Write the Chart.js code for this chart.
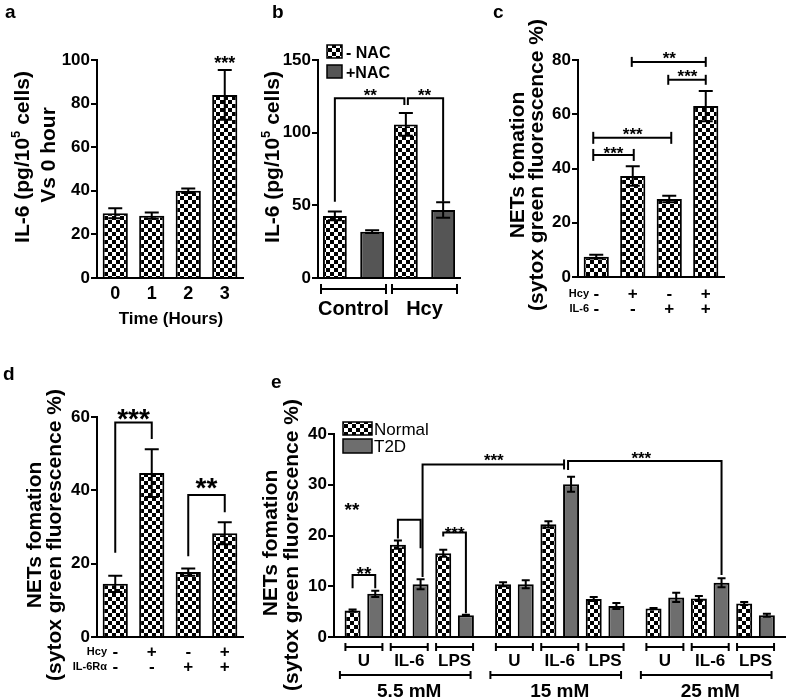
<!DOCTYPE html>
<html>
<head>
<meta charset="utf-8">
<title>IL-6 and NETs formation</title>
<script src="https://cdn.jsdelivr.net/npm/chart.js@4.4.1/dist/chart.umd.min.js"></script>
<style>
  html, body { margin: 0; padding: 0; background: #fff; }
  #figure { position: relative; width: 787px; height: 700px; overflow: hidden; }
  #figure canvas { position: absolute; }
</style>
</head>
<body>
<div id="figure">
  <canvas id="panelA"></canvas>
  <canvas id="panelB"></canvas>
  <canvas id="panelC"></canvas>
  <canvas id="panelD"></canvas>
  <canvas id="panelE"></canvas>
</div>
<script>
// ---- data ----
// a: IL-6 release over time
const timeLabels = ['0', '1', '2', '3'];
const il6Time = [29.7, 28.6, 40.0, 84.0];
const il6TimeErr = [2.3, 1.4, 1.0, 11.4];

// b: IL-6 with / without NAC
const nacGroups = ['Control', 'Hcy'];
const il6MinusNac = [42.7, 105.7];
const il6MinusNacErr = [3.0, 7.8];
const il6PlusNac = [31.9, 46.8];
const il6PlusNacErr = [1.0, 5.3];

// c: NETs formation, Hcy / IL-6
const hcyRowC = ['-', '+', '-', '+'];
const il6RowC = ['-', '-', '+', '+'];
const netsC = [7.5, 37.2, 28.8, 63.0];
const netsCErr = [0.7, 3.6, 1.2, 5.6];

// d: NETs formation, Hcy / IL-6Rα
const hcyRowD = ['-', '+', '-', '+'];
const il6rRowD = ['-', '-', '+', '+'];
const netsD = [14.5, 44.7, 17.7, 28.3];
const netsDErr = [2.2, 6.5, 1.0, 3.0];

// e: Normal vs T2D neutrophils at three glucose levels
const glucose = ['5.5 mM', '15 mM', '25 mM'];
const stimuli = ['U', 'IL-6', 'LPS'];
const netsNormal = [5.2, 18.2, 16.5, 10.4, 22.2, 7.5, 5.6, 7.6, 6.6];
const netsNormalErr = [0.2, 0.8, 0.7, 0.4, 0.6, 0.4, 0.1, 0.5, 0.3];
const netsT2D = [8.5, 10.4, 4.3, 10.4, 30.1, 6.1, 7.8, 10.7, 4.3];
const netsT2DErr = [0.6, 1.0, 0.1, 0.8, 1.5, 0.6, 0.9, 0.9, 0.3];

// ---- helpers ----
const FONT = '"Liberation Sans", Arial, Helvetica, sans-serif';
Chart.defaults.font.family = FONT;
Chart.defaults.font.weight = 'bold';

function font(size, bold) {
    return (bold === false ? '' : 'bold ') + size + 'px ' + FONT;
}

function place(id, box) {
    const cv = document.getElementById(id);
    cv.width = box.w;
    cv.height = box.h;
    cv.style.left = box.l + 'px';
    cv.style.top = box.t + 'px';
    return cv.getContext('2d');
}

function checker(ctx) {
    const tile = document.createElement('canvas');
    tile.width = 8;
    tile.height = 8;
    const g = tile.getContext('2d');
    g.fillStyle = '#fff';
    g.fillRect(0, 0, 8, 8);
    g.fillStyle = '#000';
    g.fillRect(0, 0, 4, 4);
    g.fillRect(4, 4, 4, 4);
    return ctx.createPattern(tile, 'repeat');
}

function yAxis(max, step, width) {
    return {
        min: 0,
        max: max,
        afterFit: s => { s.width = width; },
        ticks: { stepSize: step, color: '#000', padding: 1,
                 font: { family: FONT, size: 17, weight: 'bold', style: 'normal' } },
        grid: { display: true, drawOnChartArea: false, drawTicks: true, tickLength: 6, color: '#000', lineWidth: 2 },
        border: { display: true, color: '#000', width: 2 }
    };
}

function xCategory(height) {
    return {
        offset: true,
        afterFit: s => { s.height = height; },
        ticks: { display: false },
        grid: { display: false, drawTicks: false },
        border: { display: true, color: '#000', width: 2 }
    };
}

function chartOptions(box, area, scales) {
    return {
        responsive: false,
        animation: false,
        events: [],
        devicePixelRatio: 1,
        layout: { padding: { top: area.top - box.t, right: box.l + box.w - area.right, left: 0, bottom: 0 } },
        plugins: { legend: { display: false }, tooltip: { enabled: false } },
        scales: scales
    };
}

function barStyle(fill, pct) {
    return { backgroundColor: fill, borderColor: '#000', borderWidth: 2, borderSkipped: 'bottom',
             categoryPercentage: 1, barPercentage: pct };
}

// error bars: sets = [[values, errors], ...] per dataset
function errorBars(id, sets, cap) {
    return {
        id: id,
        afterDatasetsDraw(chart) {
            const ctx = chart.ctx;
            const ys = chart.scales.y;
            ctx.save();
            ctx.strokeStyle = '#000';
            ctx.lineWidth = 2;
            sets.forEach((set, ds) => {
                const meta = chart.getDatasetMeta(ds);
                meta.data.forEach((el, i) => {
                    const top = ys.getPixelForValue(set[0][i] + set[1][i]);
                    const bot = ys.getPixelForValue(set[0][i] - set[1][i]);
                    ctx.beginPath();
                    ctx.moveTo(el.x, bot); ctx.lineTo(el.x, top);
                    ctx.moveTo(el.x - cap / 2, top); ctx.lineTo(el.x + cap / 2, top);
                    ctx.moveTo(el.x - cap / 2, bot); ctx.lineTo(el.x + cap / 2, bot);
                    ctx.stroke();
                });
            });
            ctx.restore();
        }
    };
}

// decorations drawn in page coordinates
function decor(id, box, fn) {
    return {
        id: id,
        afterDraw(chart) {
            const ctx = chart.ctx;
            ctx.save();
            ctx.translate(-box.l, -box.t);
            fn(ctx, {
                bx: (ds, i) => chart.getDatasetMeta(ds).data[i].x + box.l,
                vy: v => chart.scales.y.getPixelForValue(v) + box.t,
                px: v => chart.scales.x.getPixelForValue(v) + box.l
            });
            ctx.restore();
        }
    };
}

function label(ctx, s, x, y, size, align, bold) {
    ctx.font = font(size, bold);
    ctx.textAlign = align || 'center';
    ctx.textBaseline = 'alphabetic';
    ctx.fillStyle = '#000';
    ctx.fillText(s, x, y);
}

function stars(ctx, s, cx, cy, size) {
    label(ctx, s, cx, cy + 0.58 * size, size);
}

function path(ctx, pts, w) {
    ctx.beginPath();
    ctx.moveTo(pts[0][0], pts[0][1]);
    for (let i = 1; i < pts.length; i++) ctx.lineTo(pts[i][0], pts[i][1]);
    ctx.lineWidth = w || 2;
    ctx.strokeStyle = '#000';
    ctx.stroke();
}

// horizontal bracket with small end ticks
function hBracket(ctx, x1, x2, y, half) {
    path(ctx, [[x1, y], [x2, y]]);
    path(ctx, [[x1, y - half], [x1, y + half]]);
    path(ctx, [[x2, y - half], [x2, y + half]]);
}

// rotated axis title; parts = [{t, sup}]
function vTitle(ctx, parts, bx, cy, size) {
    ctx.save();
    ctx.translate(bx, cy);
    ctx.rotate(-Math.PI / 2);
    ctx.fillStyle = '#000';
    ctx.textBaseline = 'alphabetic';
    ctx.textAlign = 'left';
    const fonts = parts.map(p => font(p.sup ? Math.round(size * 0.62) : size));
    let total = 0;
    parts.forEach((p, i) => { ctx.font = fonts[i]; total += ctx.measureText(p.t).width; });
    let x = -total / 2;
    parts.forEach((p, i) => {
        ctx.font = fonts[i];
        ctx.fillText(p.t, x, p.sup ? -size * 0.42 : 0);
        x += ctx.measureText(p.t).width;
    });
    ctx.restore();
}

function legendBox(ctx, fill, x, y, w, h) {
    ctx.fillStyle = fill;
    ctx.fillRect(x, y, w, h);
    ctx.lineWidth = 1.5;
    ctx.strokeStyle = '#000';
    ctx.strokeRect(x, y, w, h);
}

const il6Title = [{ t: 'IL-6 (pg/10' }, { t: '5', sup: true }, { t: ' cells)' }];
const NAC_GREY = '#555555';
const T2D_GREY = '#6e6e6e';

// ---- panel a ----
const boxA = { l: 0, t: 0, w: 250, h: 345 };
const areaA = { left: 97, right: 243, top: 60, bottom: 278 };
const ctxA = place('panelA', boxA);
new Chart(ctxA, {
    type: 'bar',
    data: { labels: timeLabels, datasets: [Object.assign({ data: il6Time }, barStyle(checker(ctxA), 0.69))] },
    options: chartOptions(boxA, areaA, {
        x: xCategory(boxA.t + boxA.h - areaA.bottom),
        y: yAxis(100, 20, areaA.left - boxA.l)
    }),
    plugins: [
        errorBars('errA', [[il6Time, il6TimeErr]], 14),
        decor('decA', boxA, (ctx, c) => {
            label(ctx, 'a', 5, 18, 19, 'left');
            vTitle(ctx, il6Title, 29, 157, 21);
            vTitle(ctx, [{ t: 'Vs 0 hour' }], 55, 155, 21);
            timeLabels.forEach((t, i) => label(ctx, t, c.bx(0, i), 299, 18));
            label(ctx, 'Time (Hours)', 171, 324, 17);
            stars(ctx, '***', c.bx(0, 3), 59, 18);
        })
    ]
});

// ---- panel b ----
const boxB = { l: 250, t: 0, w: 240, h: 345 };
const areaB = { left: 318, right: 460, top: 60, bottom: 278 };
const ctxB = place('panelB', boxB);
const patB = checker(ctxB);
new Chart(ctxB, {
    type: 'bar',
    data: {
        labels: nacGroups,
        datasets: [
            Object.assign({ label: '- NAC', data: il6MinusNac }, barStyle(patB, 0.64), { categoryPercentage: 1.05 }),
            Object.assign({ label: '+NAC', data: il6PlusNac }, barStyle(NAC_GREY, 0.64), { categoryPercentage: 1.05 })
        ]
    },
    options: chartOptions(boxB, areaB, {
        x: xCategory(boxB.t + boxB.h - areaB.bottom),
        y: yAxis(150, 50, areaB.left - boxB.l)
    }),
    plugins: [
        errorBars('errB', [[il6MinusNac, il6MinusNacErr], [il6PlusNac, il6PlusNacErr]], 14),
        decor('decB', boxB, (ctx, c) => {
            label(ctx, 'b', 272, 18, 19, 'left');
            vTitle(ctx, il6Title, 279, 157, 21);
            // legend
            legendBox(ctx, patB, 327, 45, 15, 13);
            legendBox(ctx, NAC_GREY, 327, 65, 15, 13);
            label(ctx, '- NAC', 346, 58, 16, 'left');
            label(ctx, '+NAC', 346, 78, 16, 'left');
            // significance
            const top = c.vy(123.7);
            const xc = c.bx(0, 0), xh = c.bx(0, 1), xn = c.bx(1, 1);
            path(ctx, [[xc, c.vy(52.5)], [xc, top], [xh - 1.5, top], [xh - 1.5, c.vy(119)]]);
            path(ctx, [[xh + 2, c.vy(119)], [xh + 2, top], [xn, top], [xn, c.vy(52.5)]]);
            stars(ctx, '**', (xc + xh) / 2, top - 7, 17);
            stars(ctx, '**', (xh + xn) / 2, top - 7, 17);
            // group brackets and labels
            nacGroups.forEach((g, i) => {
                const mid = c.px(i);
                const half = (areaB.right - areaB.left) / nacGroups.length / 2;
                hBracket(ctx, mid - half + 3, mid + half - 3, 289, 5);
                label(ctx, g, mid, 315, 20);
            });
        })
    ]
});

// ---- panel c ----
const boxC = { l: 490, t: 0, w: 297, h: 345 };
const areaC = { left: 578, right: 724, top: 60, bottom: 277 };
const ctxC = place('panelC', boxC);
new Chart(ctxC, {
    type: 'bar',
    data: { labels: hcyRowC.map((h, i) => h + i), datasets: [Object.assign({ data: netsC }, barStyle(checker(ctxC), 0.69))] },
    options: chartOptions(boxC, areaC, {
        x: xCategory(boxC.t + boxC.h - areaC.bottom),
        y: yAxis(80, 20, areaC.left - boxC.l)
    }),
    plugins: [
        errorBars('errC', [[netsC, netsCErr]], 14),
        decor('decC', boxC, (ctx, c) => {
            label(ctx, 'c', 493, 18, 19, 'left');
            vTitle(ctx, [{ t: 'NETs fomation' }], 524, 165, 21);
            vTitle(ctx, [{ t: '(sytox green fluorescence %)' }], 543, 165, 21);
            const b = i => c.bx(0, i);
            hBracket(ctx, b(0) - 3, b(1) + 1, c.vy(45.0), 6);
            stars(ctx, '***', (b(0) + b(1)) / 2 - 1, c.vy(45.0) - 6, 17);
            hBracket(ctx, b(0) - 3, b(2) + 2, c.vy(51.3), 6);
            stars(ctx, '***', (b(0) + b(2)) / 2, c.vy(51.3) - 8, 17);
            hBracket(ctx, b(1) - 1, b(3), c.vy(79.3), 5);
            stars(ctx, '**', (b(1) + b(3)) / 2, c.vy(79.3) - 8, 17);
            hBracket(ctx, b(2) - 1, b(3), c.vy(72.7), 5);
            stars(ctx, '***', (b(2) + b(3)) / 2, c.vy(72.7) - 8, 17);
            label(ctx, 'Hcy', 589, 297, 11, 'right');
            label(ctx, 'IL-6', 589, 312, 11, 'right');
            hcyRowC.forEach((s, i) => label(ctx, s, b(i), 299, 17));
            il6RowC.forEach((s, i) => label(ctx, s, b(i), 314, 17));
        })
    ]
});

// ---- panel d ----
const boxD = { l: 0, t: 345, w: 250, h: 355 };
const areaD = { left: 97, right: 243, top: 417, bottom: 637 };
const ctxD = place('panelD', boxD);
new Chart(ctxD, {
    type: 'bar',
    data: { labels: hcyRowD.map((h, i) => h + i), datasets: [Object.assign({ data: netsD }, barStyle(checker(ctxD), 0.69))] },
    options: chartOptions(boxD, areaD, {
        x: xCategory(boxD.t + boxD.h - areaD.bottom),
        y: yAxis(60, 20, areaD.left - boxD.l)
    }),
    plugins: [
        errorBars('errD', [[netsD, netsDErr]], 14),
        decor('decD', boxD, (ctx, c) => {
            label(ctx, 'd', 3, 380, 19, 'left');
            vTitle(ctx, [{ t: 'NETs fomation' }], 41, 535, 21);
            vTitle(ctx, [{ t: '(sytox green fluorescence %)' }], 61, 535, 21);
            const b = i => c.bx(0, i);
            const t1 = c.vy(58.5), t2 = c.vy(38.7);
            path(ctx, [[b(0), c.vy(23)], [b(0), t1], [b(1), t1], [b(1), c.vy(54)]]);
            stars(ctx, '***', (b(0) + b(1)) / 2, t1 - 11, 28);
            path(ctx, [[b(2), c.vy(22)], [b(2), t2], [b(3), t2], [b(3), c.vy(34)]]);
            stars(ctx, '**', (b(2) + b(3)) / 2, t2 - 14, 28);
            label(ctx, 'Hcy', 107, 655, 11, 'right');
            label(ctx, 'IL-6R\u03b1', 107, 670, 11, 'right');
            hcyRowD.forEach((s, i) => label(ctx, s, b(i), 657, 17));
            il6rRowD.forEach((s, i) => label(ctx, s, b(i), 672, 17));
        })
    ]
});

// ---- panel e ----
const GROUP_GAP = 0.32;   // extra space between glucose groups, in pair widths
const pairPos = glucose.flatMap((g, gi) => stimuli.map((s, si) => gi * (stimuli.length + GROUP_GAP) + si));
const boxE = { l: 250, t: 345, w: 537, h: 355 };
const areaE = { left: 334, right: 785, top: 434, bottom: 637 };
const ctxE = place('panelE', boxE);
const patE = checker(ctxE);
const eBar = fill => Object.assign(barStyle(fill, 0.9), { grouped: false, maxBarThickness: 16 });
new Chart(ctxE, {
    type: 'bar',
    data: {
        datasets: [
            Object.assign({ label: 'Normal', data: netsNormal.map((v, i) => ({ x: pairPos[i] - 0.25, y: v })) }, eBar(patE)),
            Object.assign({ label: 'T2D', data: netsT2D.map((v, i) => ({ x: pairPos[i] + 0.25, y: v })) }, eBar(T2D_GREY))
        ]
    },
    options: chartOptions(boxE, areaE, {
        x: {
            type: 'linear', min: -0.66, max: 9.29, offset: false,
            afterFit: s => { s.height = boxE.t + boxE.h - areaE.bottom; },
            ticks: { display: false, stepSize: 1, includeBounds: false },
            grid: { display: false, drawTicks: false },
            border: { display: true, color: '#000', width: 2 }
        },
        y: yAxis(40, 10, areaE.left - boxE.l)
    }),
    plugins: [
        errorBars('errE', [[netsNormal, netsNormalErr], [netsT2D, netsT2DErr]], 8),
        decor('decE', boxE, (ctx, c) => {
            label(ctx, 'e', 271, 388, 19, 'left');
            vTitle(ctx, [{ t: 'NETs fomation' }], 277, 543, 21);
            vTitle(ctx, [{ t: '(sytox green fluorescence %)' }], 298, 545, 21);
            // legend
            legendBox(ctx, patE, 343, 422, 29, 13);
            legendBox(ctx, T2D_GREY, 343, 439, 29, 14);
            label(ctx, 'Normal', 374, 435, 17, 'left', false);
            label(ctx, 'T2D', 374, 452, 17, 'left', false);
            // significance
            const n = i => c.bx(0, i), t = i => c.bx(1, i);
            stars(ctx, '**', 352, 505, 19);
            const yU = c.vy(12.2);
            path(ctx, [[n(0), c.vy(9.6)], [n(0), yU], [t(0), yU], [t(0), c.vy(9.6)]]);
            stars(ctx, '**', (n(0) + t(0)) / 2, yU - 6, 19);
            const yI = c.vy(23.1);
            path(ctx, [[n(1), c.vy(19.4)], [n(1), yI], [t(1), yI], [t(1), c.vy(17.5)]]);
            const yL = c.vy(20.6);
            path(ctx, [[n(2), c.vy(19.8)], [n(2), yL], [t(2), yL], [t(2), c.vy(4.7)]]);
            stars(ctx, '***', (n(2) + t(2)) / 2, yL - 3, 17);
            const y1 = c.vy(34.0);
            path(ctx, [[t(1) + 2, c.vy(11.8)], [t(1) + 2, y1], [t(4) - 7, y1]]);
            path(ctx, [[t(4) - 7, y1 - 5], [t(4) - 7, y1 + 5]]);
            stars(ctx, '***', (t(1) + t(4)) / 2 - 2, y1 - 8, 17);
            const y2 = c.vy(34.7);
            path(ctx, [[t(4) - 3, c.vy(32.9)], [t(4) - 3, y2], [t(7), y2], [t(7), c.vy(12.2)]]);
            stars(ctx, '***', (t(4) + t(7)) / 2 - 5, y2 - 7, 17);
            // category labels
            pairPos.forEach((p, i) => {
                const mid = c.px(p);
                hBracket(ctx, mid - 18.5, mid + 18.5, 647, 4);
                label(ctx, stimuli[i % stimuli.length], mid, 666, 17);
            });
            glucose.forEach((g, gi) => {
                const first = c.px(pairPos[gi * stimuli.length]);
                const last = c.px(pairPos[gi * stimuli.length + stimuli.length - 1]);
                hBracket(ctx, first - 24, last + 16, 675, 4);
                label(ctx, g, (first + last) / 2, 697, 19);
            });
        })
    ]
});
</script>
</body>
</html>
